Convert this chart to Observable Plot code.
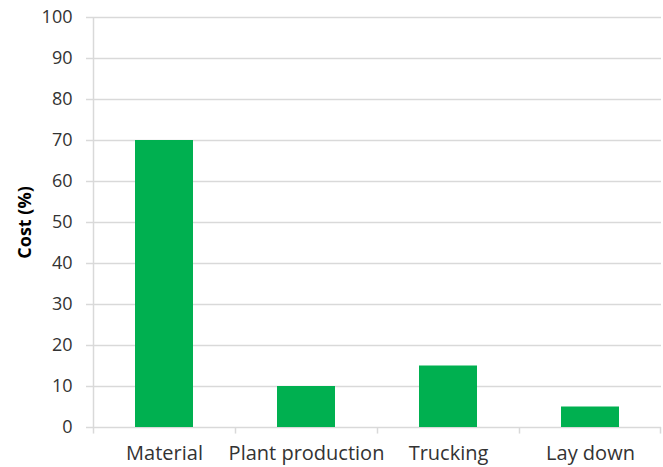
<!DOCTYPE html>
<html><head><meta charset="utf-8">
<script src="https://cdn.jsdelivr.net/npm/d3@7"></script>
<script src="https://cdn.jsdelivr.net/npm/@observablehq/plot@0.6"></script>
<style>
body{margin:0;background:#fff;}
svg{font-family:"Open Sans",sans-serif;}
</style>
</head><body><div id="chart"></div>
<script>
const categories = ["Material","Plant production","Trucking","Lay down"];
const costs = [70,10,15,5];
const yTicks = [0,10,20,30,40,50,60,70,80,90,100];

const data = categories.map((c,i)=>({category:c, cost:costs[i]}));
const W = 663, H = 467, mL = 93, mR = 2, mT = 17, mB = 40;
const bw = (W - mL - mR) / categories.length;
const grid = "#d9d9d9";
const ink = "#333";

const plot = Plot.plot({
  width: W, height: H,
  marginLeft: mL, marginRight: mR, marginTop: mT, marginBottom: mB,
  style: {fontFamily: "'Open Sans', sans-serif", fontSize: "18px", color: ink, background: "#fff"},
  x: {domain: categories, padding: 0, label: null},
  y: {domain: [0,100], ticks: yTicks, label: null},
  marks: [
    Plot.ruleY(yTicks, {stroke: grid, strokeWidth: 1.5, insetLeft: -7}),
    Plot.ruleX([0], {x: () => categories[0], dx: -bw/2, y1: 0, y2: 100, stroke: grid, strokeWidth: 1.5}),
    Plot.barY(data, {x: "category", y: "cost", fill: "#00b050", insetLeft: 42, insetRight: 42}),
    Plot.ruleX(categories, {x: d => d, dx: -bw/2, y1: 0, y2: -1.6, stroke: grid, strokeWidth: 1.5}),
    Plot.ruleX([categories[categories.length-1]], {x: d => d, dx: bw/2 - 1, y1: 0, y2: -1.6, stroke: grid, strokeWidth: 1.5}),
    Plot.axisY({ticks: yTicks, tickSize: 0, tickPadding: 21, fontSize: 18, fill: ink, label: null}),
    Plot.axisX({tickSize: 0, tickPadding: 18, fontSize: 20, fill: ink, label: null}),
    Plot.text(["Cost (%)"], {frameAnchor: "left", textAnchor: "middle", dx: -68, rotate: -90, fontWeight: "bold", fontSize: 18, fill: "#000", text: d => d})
  ]
});
document.getElementById("chart").appendChild(plot);
</script>
</body></html>
